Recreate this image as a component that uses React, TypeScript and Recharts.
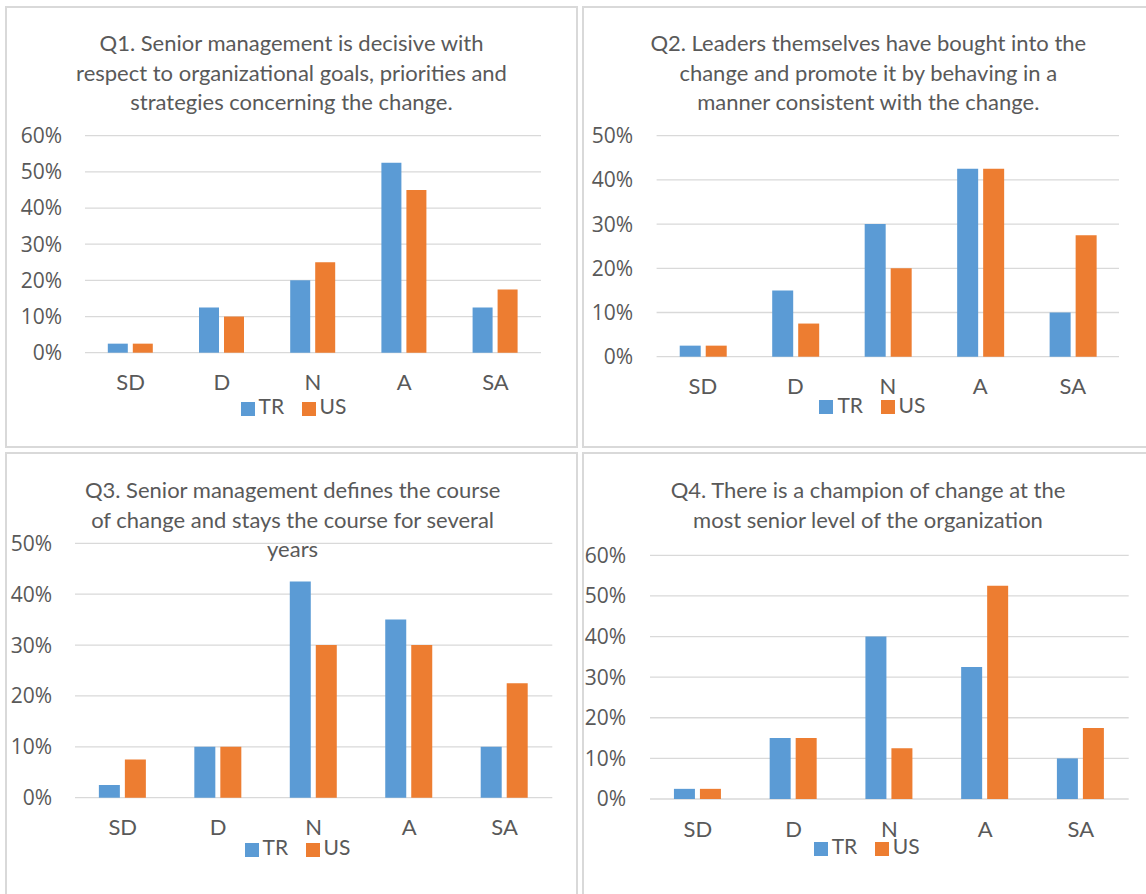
import React from 'react';
import { BarChart, Bar, XAxis, YAxis, CartesianGrid, Legend } from 'recharts';

const categories = ['SD', 'D', 'N', 'A', 'SA'];

const q1TR = [2.5, 12.5, 20, 52.5, 12.5];
const q1US = [2.5, 10, 25, 45, 17.5];
const q2TR = [2.5, 15, 30, 42.5, 10];
const q2US = [2.5, 7.5, 20, 42.5, 27.5];
const q3TR = [2.5, 10, 42.5, 35, 10];
const q3US = [7.5, 10, 30, 30, 22.5];
const q4TR = [2.5, 15, 40, 32.5, 10];
const q4US = [2.5, 15, 12.5, 52.5, 17.5];

const ticks60 = [0, 10, 20, 30, 40, 50, 60];
const ticks50 = [0, 10, 20, 30, 40, 50];

const q1Title = [
  'Q1. Senior management is decisive with',
  'respect to organizational goals, priorities and',
  'strategies concerning the change.',
];
const q2Title = [
  'Q2. Leaders themselves have bought into the',
  'change and promote it by behaving in a',
  'manner consistent with the change.',
];
const q3Title = [
  'Q3. Senior management defines the course',
  'of change and stays the course for several',
  'years',
];
const q4Title = [
  'Q4. There is a champion of change at the',
  'most senior level of the organization',
];

const seriesNames = ['TR', 'US'];

const BLUE = '#5B9BD5';
const ORANGE = '#ED7D31';
const TEXT = '#595959';
const GRID = '#D9D9D9';
const FONT = 'Lato, "Open Sans", sans-serif';
const TICKFONT = '"Open Sans", Lato, sans-serif';

function build(tr: number[], us: number[]) {
  return categories.map((c, i) => ({ cat: c, TR: tr[i], US: us[i] }));
}

type PanelProps = {
  left: number;
  top: number;
  width: number;
  height: number;
  title: string[];
  titleX: number;
  titleY: number;
  data: { cat: string; TR: number; US: number }[];
  ticks: number[];
  margin: { top: number; right: number; bottom: number; left: number };
  yWidth: number;
  yGap: number;
  legendX: number;
  legendY: number;
};

function Panel(p: PanelProps) {
  const lh = 29.5;
  const max = p.ticks[p.ticks.length - 1];
  return (
    <div style={{ position: 'absolute', left: p.left, top: p.top, width: p.width, height: p.height }}>
      <div
        style={{
          position: 'absolute',
          left: 0,
          top: 0,
          width: p.width,
          height: p.height,
          boxSizing: 'border-box',
          border: `2px solid ${GRID}`,
        }}
      />
      <div style={{ position: 'absolute', left: 0, top: 0 }}>
        <BarChart
          width={p.width}
          height={p.height}
          data={p.data}
          margin={p.margin}
          barCategoryGap="25%"
          barGap={5}
        >
          <CartesianGrid vertical={false} stroke={GRID} strokeWidth={1.3} />
          <XAxis
            dataKey="cat"
            axisLine={false}
            tickLine={false}
            tickSize={0}
            tickMargin={22}
            height={30}
            interval={0}
            tick={{ fill: TEXT, fontSize: 22, fontFamily: FONT }}
          />
          <YAxis
            width={p.yWidth}
            domain={[0, max]}
            ticks={p.ticks}
            axisLine={false}
            tickLine={false}
            tickSize={0}
            tickMargin={p.yGap}
            tickFormatter={(v: number) => `${v}%`}
            tick={{ fill: TEXT, fontSize: 21, fontFamily: TICKFONT }}
          />
          <Legend
            layout="horizontal"
            verticalAlign="middle"
            align="center"
            iconType="square"
            iconSize={14}
            wrapperStyle={{
              top: p.legendY - 13,
              left: p.legendX - 100 + 8.75,
              width: 200,
              fontFamily: FONT,
              fontSize: 21,
              lineHeight: '26px',
            }}
            formatter={(v: string) => <span style={{ color: TEXT, marginRight: 7.5 }}>{v}</span>}
          />
          <Bar dataKey={seriesNames[0]} name={seriesNames[0]} fill={BLUE} isAnimationActive={false} />
          <Bar dataKey={seriesNames[1]} name={seriesNames[1]} fill={ORANGE} isAnimationActive={false} />
        </BarChart>
      </div>
      {p.title.map((line, i) => (
        <div
          key={i}
          style={{
            position: 'absolute',
            left: p.titleX - 280,
            width: 560,
            top: p.titleY + i * lh - lh / 2,
            height: lh,
            lineHeight: `${lh}px`,
            textAlign: 'center',
            fontFamily: FONT,
            fontSize: 22,
            color: TEXT,
            whiteSpace: 'nowrap',
          }}
        >
          {line}
        </div>
      ))}
    </div>
  );
}

export default function App() {
  return (
    <div
      style={{
        position: 'absolute',
        left: 0,
        top: 0,
        width: 1146,
        height: 894,
        overflow: 'hidden',
        background: '#fff',
      }}
    >
      <Panel
        left={5}
        top={6}
        width={573}
        height={442}
        title={q1Title}
        titleX={286.5}
        titleY={37}
        data={build(q1TR, q1US)}
        ticks={ticks60}
        margin={{ top: 129.7, right: 37, bottom: 65.3, left: 0 }}
        yWidth={80}
        yGap={23}
        legendX={288.5}
        legendY={400}
      />
      <Panel
        left={582}
        top={6}
        width={570}
        height={442}
        title={q2Title}
        titleX={286.3}
        titleY={37}
        data={build(q2TR, q2US)}
        ticks={ticks50}
        margin={{ top: 129.7, right: 33, bottom: 61.3, left: 0 }}
        yWidth={74.6}
        yGap={23.6}
        legendX={290.4}
        legendY={398.7}
      />
      <Panel
        left={5}
        top={452}
        width={573}
        height={450}
        title={q3Title}
        titleX={287.6}
        titleY={38}
        data={build(q3TR, q3US)}
        ticks={ticks50}
        margin={{ top: 91.3, right: 25.7, bottom: 74.3, left: 0 }}
        yWidth={70}
        yGap={23}
        legendX={292.5}
        legendY={395}
      />
      <Panel
        left={582}
        top={452}
        width={570}
        height={450}
        title={q4Title}
        titleX={286}
        titleY={38}
        data={build(q4TR, q4US)}
        ticks={ticks60}
        margin={{ top: 103.3, right: 23.3, bottom: 73, left: 0 }}
        yWidth={68}
        yGap={24}
        legendX={284.6}
        legendY={394}
      />
    </div>
  );
}
